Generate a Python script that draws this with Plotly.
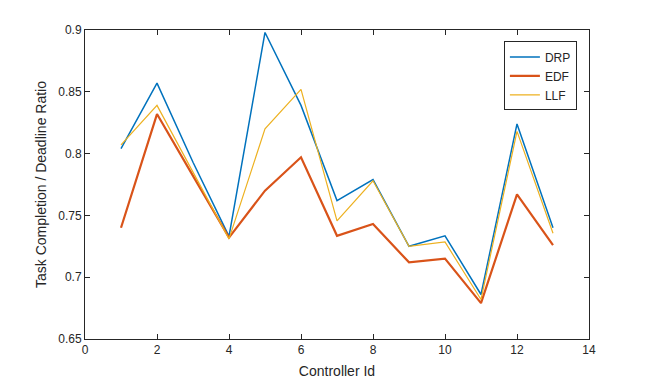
import plotly.graph_objects as go

controller_id = [1, 2, 3, 4, 5, 6, 7, 8, 9, 10, 11, 12, 13]
drp = [0.804, 0.857, 0.793, 0.733, 0.898, 0.839, 0.762, 0.779, 0.725, 0.7335, 0.686, 0.824, 0.740]
edf = [0.740, 0.832, 0.782, 0.732, 0.770, 0.797, 0.7335, 0.743, 0.712, 0.715, 0.679, 0.767, 0.726]
llf = [0.807, 0.839, 0.785, 0.731, 0.820, 0.852, 0.7455, 0.778, 0.725, 0.7285, 0.682, 0.818, 0.7355]

x_ticks = [0, 2, 4, 6, 8, 10, 12, 14]
y_ticks = [0.65, 0.7, 0.75, 0.8, 0.85, 0.9]
y_tick_text = ["0.65", "0.7", "0.75", "0.8", "0.85", "0.9"]

fig = go.Figure()
fig.add_trace(go.Scatter(x=controller_id, y=drp, mode="lines", name="DRP",
                         line=dict(color="#0072BD", width=1.5)))
fig.add_trace(go.Scatter(x=controller_id, y=edf, mode="lines", name="EDF",
                         line=dict(color="#D95319", width=2.2)))
fig.add_trace(go.Scatter(x=controller_id, y=llf, mode="lines", name="LLF",
                         line=dict(color="#EDB120", width=1.2)))

axis_common = dict(showline=True, linecolor="#262626", linewidth=1, mirror="allticks",
                   ticks="inside", ticklen=5, tickcolor="#262626", tickwidth=1,
                   showgrid=False, zeroline=False, automargin=False,
                   tickfont=dict(family="Liberation Sans, Arial", size=12, color="#262626"))

# the page body adds an 8px offset, so the figure is sized to compensate
fig.update_layout(
    width=643, height=374,
    margin=dict(l=77, r=62, t=22, b=43),
    paper_bgcolor="white", plot_bgcolor="white",
    font=dict(family="Liberation Sans, Arial", size=12, color="#262626"),
    xaxis=dict(range=[0, 14], tickvals=x_ticks, **axis_common,
               title=dict(text="Controller Id", font=dict(size=14), standoff=9)),
    yaxis=dict(range=[0.65, 0.9], tickvals=y_ticks, ticktext=y_tick_text, **axis_common,
               title=dict(text="Task Completion / Deadline Ratio", font=dict(size=14), standoff=8)),
    legend=dict(x=0.976, y=0.963, xanchor="right", yanchor="top",
                bordercolor="#262626", borderwidth=1, bgcolor="white",
                font=dict(size=12), tracegroupgap=0, itemwidth=30),
    showlegend=True,
)

fig.write_html("out.html")
